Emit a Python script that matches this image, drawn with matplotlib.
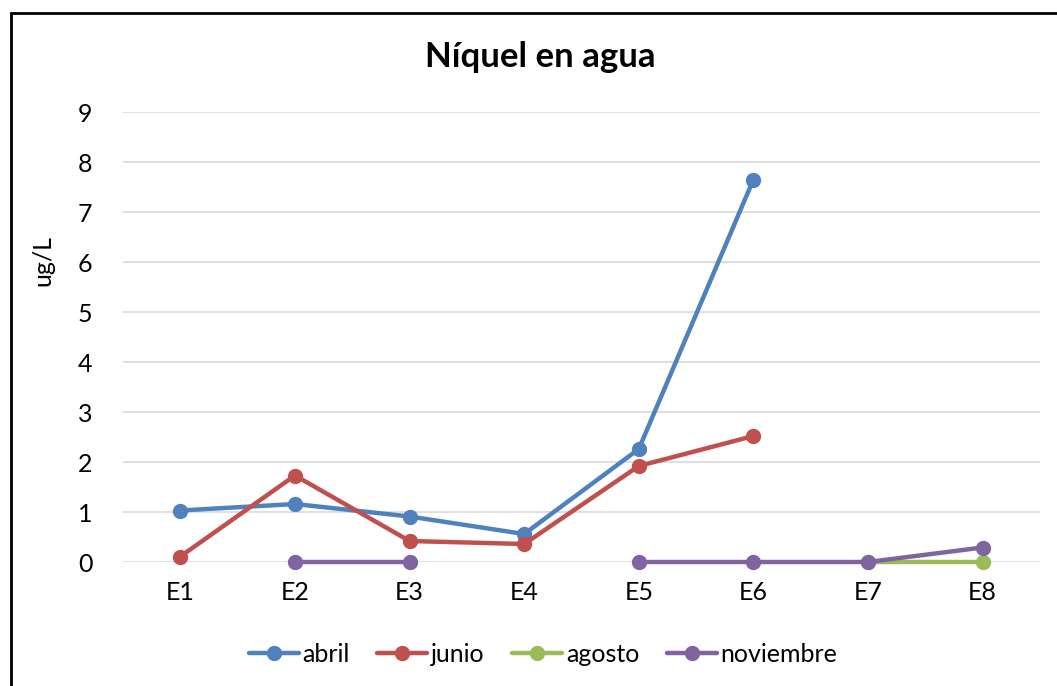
import numpy as np
import matplotlib
matplotlib.use("Agg")
import matplotlib.pyplot as plt
from matplotlib.patches import Rectangle

categories = ["E1", "E2", "E3", "E4", "E5", "E6", "E7", "E8"]
abril = [1.03, 1.16, 0.91, 0.56, 2.26, 7.65, np.nan, np.nan]
junio = [0.11, 1.73, 0.42, 0.36, 1.92, 2.52, np.nan, np.nan]
agosto = [np.nan, np.nan, np.nan, np.nan, np.nan, np.nan, 0.0, 0.0]
noviembre = [np.nan, 0.0, 0.0, np.nan, 0.0, 0.0, 0.0, 0.29]
series_names = ["abril", "junio", "agosto", "noviembre"]
colors = ["#4F81BD", "#C0504D", "#9BBB59", "#8064A2"]
yticks = list(range(0, 10))

plt.rcParams['font.family'] = ['Lato', 'DejaVu Sans']

W, H = 1057, 686
fig = plt.figure(figsize=(W / 100, H / 100), dpi=100)
ax = fig.add_axes([123 / W, 1 - 562 / H, (1040 - 123) / W, (562 - 112) / H])

x = np.arange(len(categories))
for name, vals, c in zip(series_names, [abril, junio, agosto, noviembre], colors):
    ax.plot(x, vals, color=c, lw=3.2, marker='o', markersize=10, label=name,
            solid_capstyle='round', clip_on=False)

ax.set_xlim(-0.5, len(categories) - 0.5)
ax.set_ylim(0, 9)
ax.set_yticks(yticks)
ax.set_yticklabels([str(t) for t in yticks])
ax.set_xticks(x)
ax.set_xticklabels(categories)
ax.tick_params(axis='both', length=0, labelsize=18, colors='black')
ax.tick_params(axis='x', pad=14)
ax.tick_params(axis='y', pad=22)
ax.grid(axis='y', color='#D9D9D9', lw=1.2)
ax.set_axisbelow(True)
for s in ax.spines.values():
    s.set_visible(False)

fig.text(43 / W, 1 - 260 / H, "ug/L", fontsize=18, rotation=90,
         ha='center', va='center')
fig.text(540 / W, 1 - 57 / H, "Níquel en agua", fontsize=25, fontweight='bold',
         ha='center', va='center')

leg = fig.legend(loc='center', bbox_to_anchor=(543 / W, 1 - 654 / H), ncol=4,
                 frameon=False, fontsize=18, handlelength=2.0, handletextpad=0.15,
                 columnspacing=1.1)

fig.patches.append(Rectangle((11 / W, -0.1), 1.2, 1 - 13 / H + 0.1,
                             transform=fig.transFigure, fill=False,
                             edgecolor='black', lw=2))

fig.savefig("out.png", dpi=100, facecolor='white')
